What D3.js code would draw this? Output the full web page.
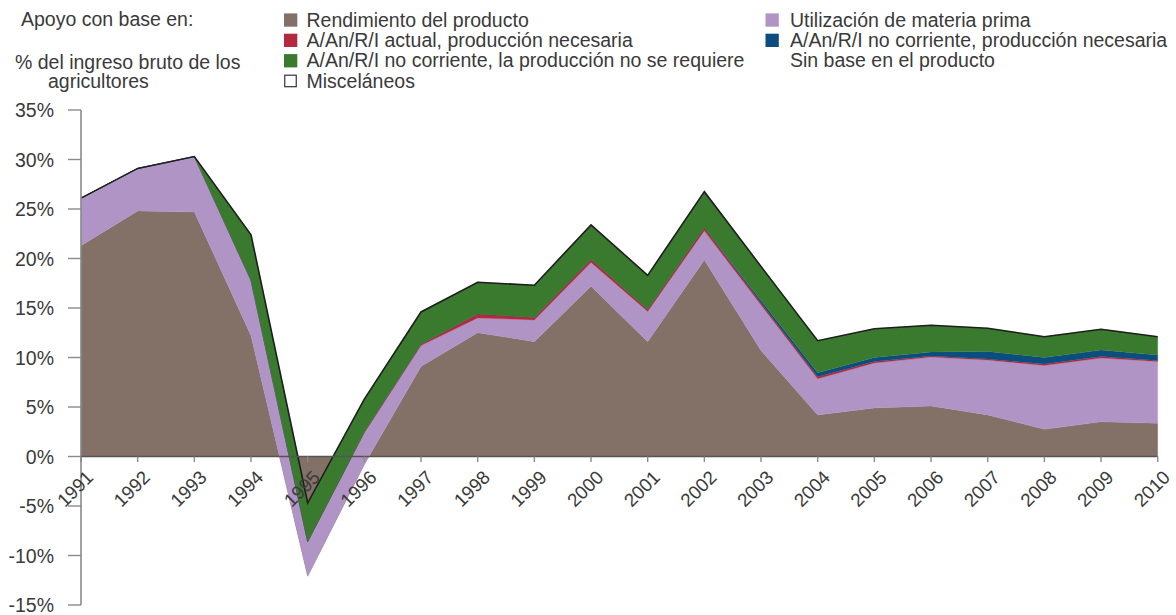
<!DOCTYPE html>
<html>
<head>
<meta charset="utf-8">
<script src="https://cdn.jsdelivr.net/npm/d3@7"></script>
<style>
  html, body { margin: 0; padding: 0; background: #fff; }
  svg { display: block; }
  text { font-family: "Liberation Sans", Arial, Helvetica, sans-serif; fill: #3a3a3a; }
</style>
</head>
<body>
<svg id="chart" width="1176" height="615"></svg>
<script>
// ---- Data ----
const years = [1991,1992,1993,1994,1995,1996,1997,1998,1999,2000,2001,2002,2003,2004,2005,2006,2007,2008,2009,2010];
const rendimiento = [21.3,24.8,24.7,12.2,-12.1,-0.8,9.1,12.5,11.6,17.2,11.6,19.85,10.7,4.2,4.9,5.1,4.2,2.75,3.5,3.35];
const materiaPrima = [4.8,4.3,5.6,5.6,3.5,3.2,2.1,1.5,2.2,2.4,3.05,2.95,4.6,3.65,4.55,4.95,5.55,6.45,6.45,6.25];
const actualNecesaria = [0,0,0,0,0,0.1,0.15,0.4,0.25,0.3,0.2,0.3,0.2,0.2,0.15,0.1,0.1,0.15,0.15,0.1];
const noCorrNecesaria = [0,0,0,0,0,0,0,0,0,0,0,0,0.25,0.4,0.4,0.4,0.75,0.65,0.65,0.55];
const noCorrNoRequiere = [0,0,0,4.6,3.9,3.3,3.25,3.2,3.25,3.5,3.45,3.65,3.45,3.25,2.9,2.7,2.35,2.1,2.1,1.85];
const sinBase = [0,0,0,0,0,0,0,0,0,0,0,0,0,0,0,0,0,0,0,0];
const miscelaneos = [0,0,0,0,0,0,0,0,0,0,0,0,0,0,0,0,0,0,0,0];
const yTicks = [-15,-10,-5,0,5,10,15,20,25,30,35];

const seriesKeys = ["rend","mat","act","ncn","nnr","sin","misc"];
const seriesValues = {rend: rendimiento, mat: materiaPrima, act: actualNecesaria, ncn: noCorrNecesaria, nnr: noCorrNoRequiere, sin: sinBase, misc: miscelaneos};
const colors = {rend:"#837067", mat:"#b094c5", act:"#b32a3e", ncn:"#0b4d7e", nnr:"#3a7a2e", sin:"#ffffff", misc:"#ffffff"};

const legendLeft = [
  {key:"rend", label:"Rendimiento del producto"},
  {key:"act", label:"A/An/R/I actual, producción necesaria"},
  {key:"nnr", label:"A/An/R/I no corriente, la producción no se requiere"},
  {key:"misc", label:"Misceláneos"}
];
const legendRight = [
  {key:"mat", label:"Utilización de materia prima"},
  {key:"ncn", label:"A/An/R/I no corriente, producción necesaria"},
  {key:"sin", label:"Sin base en el producto"}
];

// ---- Build ----
const table = years.map((yr,i) => {
  const row = {year: yr};
  seriesKeys.forEach(k => row[k] = seriesValues[k][i]);
  return row;
});

const svg = d3.select("#chart");
const FS = "19.5px";

const x = d3.scaleLinear().domain([1991,2010]).range([81,1157.7]);
const y = d3.scaleLinear().domain([-15,35]).range([605,110]);

const stack = d3.stack().keys(seriesKeys).order(d3.stackOrderNone).offset(d3.stackOffsetNone);
const stacked = stack(table);

const area = d3.area()
  .x(d => x(d.data.year))
  .y0(d => y(d[0]))
  .y1(d => y(d[1]));

svg.append("g").selectAll("path")
  .data(stacked.filter(s => s.key !== "misc" && s.key !== "sin"))
  .join("path")
  .attr("d", area)
  .attr("fill", d => colors[d.key])
  .attr("stroke", d => colors[d.key])
  .attr("stroke-width", 0.3);

// Top outline (Misceláneos top edge)
const topSeries = stacked.find(s => s.key === "misc");
svg.append("path")
  .datum(topSeries)
  .attr("d", d3.line().x(d => x(d.data.year)).y(d => y(d[1])))
  .attr("fill", "none")
  .attr("stroke", "#1e1e1e")
  .attr("stroke-width", 1.6)
  .attr("stroke-linejoin", "miter");

// Y axis
const yAxis = svg.append("g");
yAxis.append("line")
  .attr("x1", x(1991)).attr("x2", x(1991))
  .attr("y1", y(35)).attr("y2", y(-15))
  .attr("stroke", "#8a8a8a").attr("stroke-width", 1.6);
yAxis.selectAll("line.tick").data(yTicks).join("line")
  .attr("class","tick")
  .attr("x1", x(1991) - 13).attr("x2", x(1991))
  .attr("y1", d => y(d)).attr("y2", d => y(d))
  .attr("stroke", "#8a8a8a").attr("stroke-width", 1.4);
yAxis.selectAll("text").data(yTicks).join("text")
  .attr("x", 54).attr("y", d => y(d))
  .attr("dy", "0.36em")
  .attr("text-anchor", "end")
  .style("font-size", FS)
  .text(d => d + "%");

// X axis
const xAxis = svg.append("g");
xAxis.append("line")
  .attr("x1", x(1991)).attr("x2", x(2010))
  .attr("y1", y(0)).attr("y2", y(0))
  .attr("stroke", "#555").attr("stroke-width", 1.5);
xAxis.selectAll("line.tick").data(years).join("line")
  .attr("class","tick")
  .attr("x1", d => x(d)).attr("x2", d => x(d))
  .attr("y1", y(0)).attr("y2", y(0) + 5.5)
  .attr("stroke", "#8a8a8a").attr("stroke-width", 1.4);
xAxis.selectAll("text").data(years).join("text")
  .attr("transform", d => `translate(${x(d) + 13.5},${y(0) + 22})rotate(-45)`)
  .attr("text-anchor", "end")
  .style("font-size", "18.8px")
  .text(d => d);

// Titles
svg.append("text").attr("x", 21).attr("y", 26).style("font-size", FS).text("Apoyo con base en:");
svg.append("text").attr("x", 15).attr("y", 68.5).style("font-size", FS).text("% del ingreso bruto de los");
svg.append("text").attr("x", 48).attr("y", 87.5).style("font-size", FS).text("agricultores");

// Legend
function drawLegend(items, sx, tx, baselines) {
  const g = svg.append("g");
  items.forEach((it, i) => {
    const by = baselines[i];
    if (it.key !== "sin") {
      g.append("rect")
        .attr("x", it.key === "misc" ? sx + 0.75 : sx)
        .attr("y", it.key === "misc" ? by - 12.5 : by - 13.3)
        .attr("width", it.key === "misc" ? 11.5 : 13.3)
        .attr("height", it.key === "misc" ? 11.5 : 13.3)
        .attr("fill", colors[it.key])
        .attr("stroke", it.key === "misc" ? "#333" : "none")
        .attr("stroke-width", 1.2);
    }
    g.append("text").attr("x", tx).attr("y", by).style("font-size", FS).text(it.label);
  });
}
drawLegend(legendLeft, 284, 306.5, [26.7, 47, 67.4, 87.7]);
drawLegend(legendRight, 765.5, 790, [26.7, 47, 66.5]);
</script>
</body>
</html>
